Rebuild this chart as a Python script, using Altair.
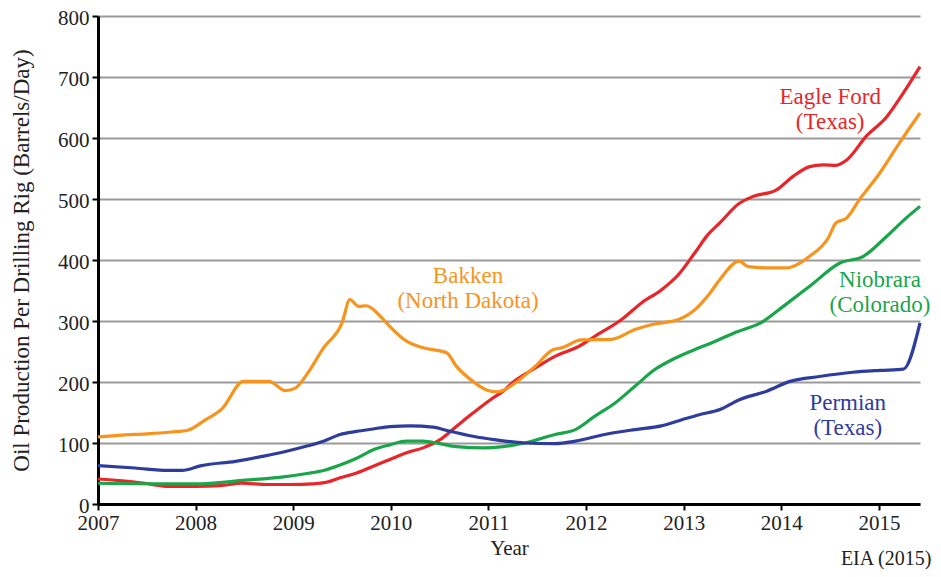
import altair as alt
import pandas as pd

# ---- data ----
series_names = ["Eagle Ford", "Bakken", "Niobrara", "Permian"]
series_colors = ["#e8262a", "#f7941e", "#1ba54a", "#2e3c9c"]

eagle_years = [2007.0, 2007.25, 2007.48, 2007.72, 2008.0, 2008.25, 2008.47, 2008.74, 2008.97, 2009.2,
               2009.35, 2009.48, 2009.65, 2009.82, 2009.99, 2010.16, 2010.33, 2010.5, 2010.67, 2010.84,
               2011.02, 2011.15, 2011.27, 2011.48, 2011.68, 2011.92, 2012.09, 2012.36, 2012.57, 2012.77,
               2012.94, 2013.11, 2013.25, 2013.37, 2013.57, 2013.71, 2013.95, 2014.12, 2014.29, 2014.43,
               2014.56, 2014.67, 2014.87, 2015.08, 2015.25, 2015.42]
eagle_vals = [41, 38, 34, 29, 29, 30, 34, 32, 32, 33,
              36, 43, 51, 62, 73, 84, 92, 105, 127, 149,
              171, 185, 202, 223, 242, 258, 275, 302, 330, 351,
              375, 411, 442, 461, 493, 504, 515, 537, 553, 556,
              555, 564, 603, 635, 674, 717]

bakken_years = [2007.0, 2007.25, 2007.5, 2007.75, 2007.92, 2008.1, 2008.27, 2008.49, 2008.75, 2008.92,
                2009.02, 2009.15, 2009.31, 2009.5, 2009.58, 2009.67, 2009.75, 2009.89, 2009.99, 2010.16,
                2010.33, 2010.57, 2010.67, 2010.84, 2010.98, 2011.08, 2011.13, 2011.27, 2011.48, 2011.66,
                2011.75, 2011.95, 2012.26, 2012.5, 2012.7, 2012.94, 2013.11, 2013.27, 2013.37, 2013.57,
                2013.66, 2013.85, 2014.05, 2014.19, 2014.29, 2014.48, 2014.56, 2014.67, 2014.8, 2015.01,
                2015.21, 2015.42]
bakken_vals = [110, 113, 115, 118, 121, 138, 156, 201, 201, 186,
               190, 215, 256, 297, 335, 324, 325, 308, 291, 267,
               256, 248, 226, 201, 187, 184, 185, 198, 226, 253,
               256, 269, 270, 286, 295, 302, 318, 346, 368, 398,
               389, 387, 387, 395, 406, 436, 461, 469, 499, 543,
               592, 641]

niobrara_years = [2007.0, 2007.65, 2008.0, 2008.51, 2008.88, 2009.14, 2009.31, 2009.48, 2009.65, 2009.82,
                  2009.99, 2010.16, 2010.33, 2010.5, 2010.67, 2010.95, 2011.15, 2011.37, 2011.68, 2011.89,
                  2012.09, 2012.3, 2012.5, 2012.7, 2012.91, 2013.11, 2013.27, 2013.51, 2013.81, 2014.02,
                  2014.29, 2014.6, 2014.84, 2015.08, 2015.28, 2015.42]
niobrara_vals = [34, 33, 33, 39, 44, 50, 55, 64, 75, 89,
                 97, 103, 103, 99, 94, 92, 94, 100, 114, 122,
                 144, 166, 193, 220, 239, 253, 263, 280, 299, 324,
                 357, 395, 406, 439, 469, 488]

permian_years = [2007.0, 2007.38, 2007.72, 2007.86, 2008.06, 2008.41, 2008.68, 2008.92, 2009.14, 2009.31,
                 2009.48, 2009.65, 2009.82, 2009.99, 2010.2, 2010.43, 2010.61, 2010.84, 2011.08, 2011.37,
                 2011.68, 2011.89, 2012.19, 2012.5, 2012.77, 2012.98, 2013.15, 2013.37, 2013.57, 2013.85,
                 2014.09, 2014.39, 2014.73, 2015.01, 2015.25, 2015.42]
permian_vals = [63, 59, 55, 55, 63, 70, 78, 86, 95, 103,
                114, 119, 123, 127, 128, 126, 119, 111, 105, 100,
                99, 103, 114, 122, 128, 138, 146, 155, 171, 185,
                201, 209, 216, 219, 221, 297]

label_series = ["Eagle Ford", "Eagle Ford", "Bakken", "Bakken", "Niobrara", "Niobrara", "Permian", "Permian"]
label_texts = ["Eagle Ford", "(Texas)", "Bakken", "(North Dakota)", "Niobrara", "(Colorado)", "Permian", "(Texas)"]
label_years = [2014.5, 2014.5, 2010.79, 2010.79, 2015.01, 2015.01, 2014.68, 2014.68]
label_vals = [668, 627, 373, 333, 368, 327, 165, 125]

x_ticks = list(range(2007, 2016))
y_ticks = list(range(0, 801, 100))

# ---- build tables ----
rows = []
for name, ys, vs in [("Eagle Ford", eagle_years, eagle_vals),
                     ("Bakken", bakken_years, bakken_vals),
                     ("Niobrara", niobrara_years, niobrara_vals),
                     ("Permian", permian_years, permian_vals)]:
    for yr, v in zip(ys, vs):
        rows.append({"series": name, "year": yr, "value": v})
df = pd.DataFrame(rows)
labels_df = pd.DataFrame({"series": label_series, "text": label_texts,
                          "year": label_years, "value": label_vals})

FONT = "Liberation Serif"
color_scale = alt.Scale(domain=series_names, range=series_colors)

x_enc = alt.X("year:Q",
              scale=alt.Scale(domain=[2007, 2015.42], nice=False, zero=False),
              axis=alt.Axis(values=x_ticks, format="d", title="Year", grid=False,
                            domainColor="black", domainWidth=3, tickColor="black",
                            tickWidth=2, tickSize=6, labelPadding=2, titlePadding=4,
                            labelFlush=False))
y_enc = alt.Y("value:Q",
              scale=alt.Scale(domain=[0, 800], nice=False),
              axis=alt.Axis(values=y_ticks, title="Oil Production Per Drilling Rig (Barrels/Day)",
                            grid=True, gridColor="#9a9a9a", gridWidth=2,
                            domainColor="black", domainWidth=3, tickColor="black",
                            tickWidth=2, tickSize=6, labelPadding=3, labelOffset=2,
                            titlePadding=24, titleFontSize=23))

lines = alt.Chart(df).mark_line(strokeWidth=3.2, interpolate="monotone").encode(
    x=x_enc, y=y_enc,
    color=alt.Color("series:N", scale=color_scale, legend=None),
    detail="series:N",
    order="year:Q",
)

labels = alt.Chart(labels_df).mark_text(font=FONT, fontSize=23).encode(
    x="year:Q", y="value:Q", text="text:N",
    color=alt.Color("series:N", scale=color_scale, legend=None),
)

chart = alt.layer(lines, labels).properties(
    width=822, height=488,
    autosize=alt.AutoSizeParams(type="none"),
    padding={"left": 90, "top": 8, "right": 13, "bottom": 65},
    title=alt.TitleParams("EIA (2015)", orient="bottom", anchor="end", font=FONT,
                          fontSize=20, fontWeight="normal", color="#222", dx=1, offset=-9),
).configure_axis(
    labelFont=FONT, labelFontSize=21, labelColor="#222",
    titleFont=FONT, titleFontSize=21, titleFontWeight="normal", titleColor="#222",
).configure_view(stroke=None)

chart.save("out.html", embed_options={"renderer": "svg", "actions": False})
